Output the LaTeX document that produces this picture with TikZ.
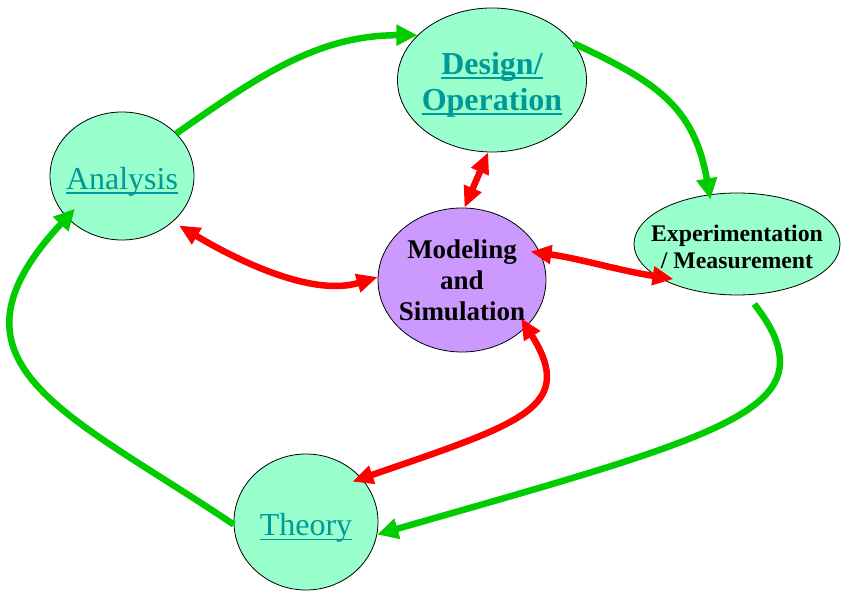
\documentclass[tikz,border=0pt]{standalone}
\usepackage{fontspec}
\setmainfont{Liberation Serif}
\usetikzlibrary{shapes.geometric,arrows.meta}
\definecolor{mint}{RGB}{153,255,204}
\definecolor{lilac}{RGB}{204,153,255}
\definecolor{linkteal}{RGB}{0,153,153}
\definecolor{leafgreen}{RGB}{0,204,0}
\newcommand{\ulnk}[1]{\leavevmode\setbox0\hbox{#1}\rlap{\rule[-4.5pt]{\wd0}{1.4pt}}\box0}
\begin{document}
\begin{tikzpicture}[x=1pt, y=1pt,
	blob/.style={ellipse, draw=black, line width=0.8pt, fill=mint, inner sep=0pt},
	lbl/.style={align=center, inner sep=0pt},
	grnarr/.style={-{Triangle[length=21pt,width=20pt]}, leafgreen, line width=6.5pt},
	redarr/.style={{Triangle[length=21pt,width=18pt]}-{Triangle[length=21pt,width=18pt]}, red, line width=6.5pt}]
	\useasboundingbox (0,0) rectangle (841,591);
	% bubbles
	\foreach \n/\x/\y/\w/\h in {ana/122/415/144/128, des/492/511/189/144, exp/737/347/206/102, th/306/69/144/136}
		\node[blob, minimum width=\w pt, minimum height=\h pt] (\n) at (\x,\y) {};
	\node[blob, fill=lilac, minimum width=168pt, minimum height=144pt] (mod) at (462,311) {};
	% texts
	\node[lbl, text=linkteal, font=\fontsize{32}{36}\selectfont, yshift=-5.5pt] (ana-t) at (ana) {\ulnk{Analysis}};
	\node[lbl, text=linkteal, font=\fontsize{32}{36}\selectfont\bfseries, yshift=-4.5pt] (des-t) at (des) {\ulnk{Design/}\\\ulnk{Operation}};
	\node[lbl, font=\fontsize{27}{31}\selectfont\bfseries] (mod-t) at (mod) {Modeling\\and\\Simulation};
	\node[lbl, font=\fontsize{23.8}{26.5}\selectfont\bfseries, yshift=-3pt] (exp-t) at (exp) {Experimentation\\/ Measurement};
	\node[lbl, text=linkteal, font=\fontsize{32}{36}\selectfont, yshift=-6pt] (th-t) at (th) {\ulnk{Theory}};
	% cycle
	\draw[grnarr] (ana.38) .. controls +(35:100pt) and +(180:100pt) .. (des.149);
	\draw[grnarr, shorten >=-5pt] (des.24) .. controls +(-25:90pt) and +(100:90pt) .. (exp.119);
	\draw[grnarr, shorten <=11pt] (exp.-78) .. controls +(-54:25pt) and +(90:25pt) .. (780,229)
		.. controls +(-90:60pt) and +(16:294pt) .. (th.-10);
	\draw[grnarr, shorten >=-12pt] (th.182) .. controls +(146:200pt) and +(-133:200pt) .. (ana.217);
	% links to modeling
	\draw[redarr, shorten <=7pt] (ana.-42) .. controls +(-31:70pt) and +(197:70pt) .. (mod.178);
	\draw[redarr] (des.-93) -- (mod.88);
	\draw[redarr, shorten <=-10pt, shorten >=-17pt] (mod.19) .. controls +(-8:40pt) and +(171:40pt) .. (exp.202);
	\draw[redarr, shorten <=-10pt, shorten >=-10pt] (mod.-36) .. controls +(-58:95pt) and +(19:170pt) .. (th.38);
\end{tikzpicture}
\end{document}
